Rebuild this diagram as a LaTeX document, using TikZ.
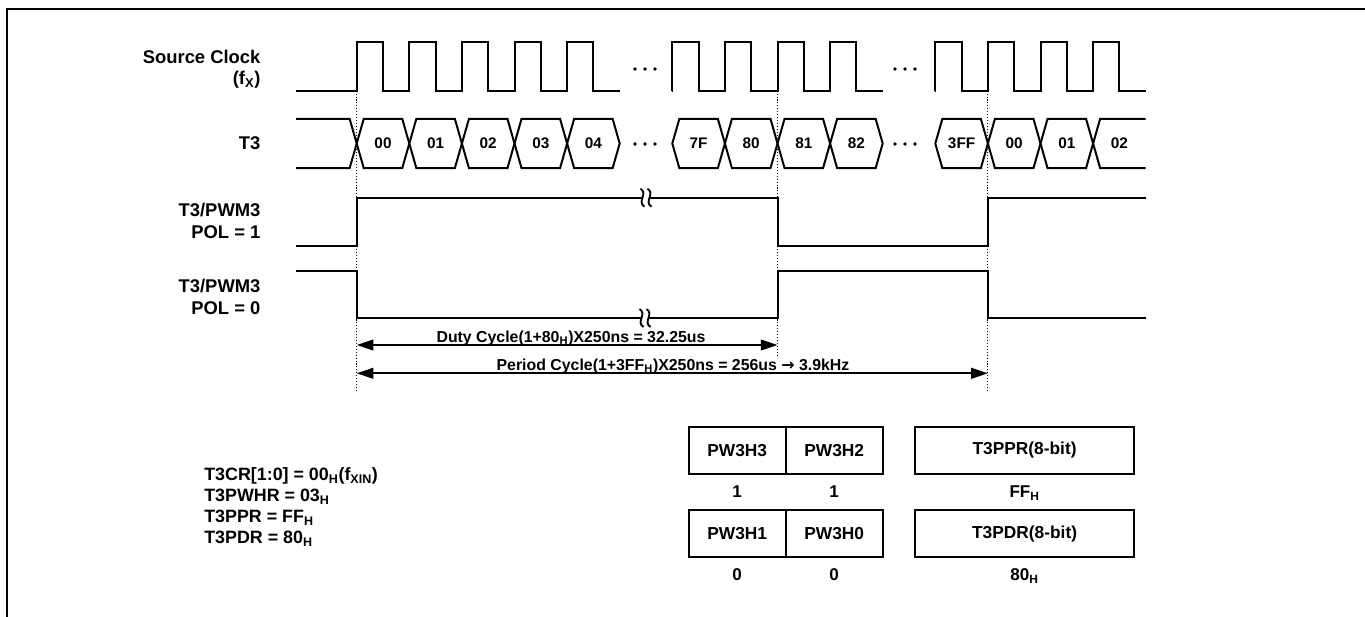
\documentclass[tikz,border=0pt]{standalone}
\usepackage{fontspec}
\setmainfont{Liberation Sans}
\newfontfamily\symfont{DejaVu Sans}
\usetikzlibrary{arrows.meta,positioning}

\begin{document}
\begin{tikzpicture}[x=0.75pt, y=-0.75pt]
        % Style definitions
        \tikzset{
            sig/.style={black, line width=1.5pt},
            frame/.style={black, line width=1.5pt},
            guide/.style={black, line width=0.8pt, dash pattern=on 0.8pt off 1.4pt},
            brk/.style={black, line width=1.4pt},
            lbl/.style={inner sep=0pt, align=right, font=\fontsize{13.8pt}{16.4pt}\selectfont\bfseries},
            hexlbl/.style={inner sep=0pt, font=\fontsize{11.5pt}{13pt}\selectfont\bfseries},
            dimlbl/.style={inner sep=0pt, font=\fontsize{11.9pt}{14pt}\selectfont\bfseries},
            regbox/.style={draw, line width=1.5pt, outer sep=0pt, minimum width=72.75pt,
                minimum height=35.5pt, inner sep=0pt, font=\fontsize{13pt}{15pt}\selectfont\bfseries},
            widebox/.style={regbox, minimum width=164.6pt},
            val/.style={inner sep=0pt, font=\fontsize{12.8pt}{14pt}\selectfont\bfseries},
            >={Triangle[length=12.5pt, width=8pt]},
            dimarrow/.style={<->, line width=1.5pt}
        }
        \def\ez{356.7}  % first rising edge
        \def\pd{52.6}   % clock period

        \useasboundingbox (0,0) rectangle (1365,617);
        \draw[frame] (7,617) -- (7,9) -- (1365,9);

        % ==========================================
        % SIGNAL NAMES
        % ==========================================
        \node[lbl, anchor=east] (nclk) at (260.7,69.3) {Source Clock\\(f\textsubscript{X})};
        \node[lbl, anchor=east] (nt3) at (260.7,143.5) {T3};
        \node[lbl, anchor=east] (npol1) at (260.7,220.5) {T3/PWM3\\POL = 1};
        \node[lbl, anchor=east] (npol0) at (260.7,296.5) {T3/PWM3\\POL = 0};

        % ==========================================
        % SOURCE CLOCK (low y = 90.7, high y = 42.3)
        % ==========================================
        \draw[sig] (296,90.7) \foreach \n in {0,...,4}{
            -- ({\ez+\pd*\n},90.7) -- ++(0,-48.4) -- ++(26.3,0) -- ++(0,48.4)} -- (619.7,90.7);
        \draw[sig] (672.3,90.7) \foreach \n in {6,...,9}{
            -- ({\ez+\pd*\n},90.7) -- ++(0,-48.4) -- ++(26.3,0) -- ++(0,48.4)} -- (882.7,90.7);
        \draw[sig] (935.3,90.7) \foreach \n in {11,...,14}{
            -- ({\ez+\pd*\n},90.7) -- ++(0,-48.4) -- ++(26.3,0) -- ++(0,48.4)} -- (1145.7,90.7);

        % ==========================================
        % T3 COUNTER VALUES (y = 119 to y = 168)
        % ==========================================
        \draw[sig] (296,119) -- (\ez-7,119) -- (\ez,143.5) -- (\ez-7,168) -- (296,168);
        \foreach \n/\v in {0/00,1/01,2/02,3/03,4/04,6/7F,7/80,8/81,9/82,11/3FF,12/00,13/01}{
            \draw[sig] ({\ez+\pd*\n},143.5) -- ++(7,-24.5) -- ++(\pd-14,0) -- ++(7,24.5)
                -- ++(-7,24.5) -- ++(-\pd+14,0) -- cycle;
            \node[hexlbl] (t\n) at ({\ez+\pd*(\n+0.5)},143.5) {\v};
        }
        % last value runs on to the right
        \draw[sig] (1145.7,119) -- ({\ez+\pd*14+7},119) -- ({\ez+\pd*14},143.5)
            -- ({\ez+\pd*14+7},168) -- (1145.7,168);
        \node[hexlbl] (t14) at ({\ez+\pd*14.5},143.5) {02};

        % Ellipsis dots
        \foreach \cx in {645,905}
            \foreach \cy in {69,144}
                \foreach \k in {-10,0,10}
                    \fill (\cx+\k,\cy) circle (1.4pt);

        % ==========================================
        % PWM OUTPUTS
        % ==========================================
        % POL = 1
        \draw[sig] (296,245.7) -- (\ez,245.7) -- (\ez,197.7) -- ({\ez+\pd*8},197.7)
            -- ({\ez+\pd*8},245.7) -- ({\ez+\pd*12},245.7) -- ({\ez+\pd*12},197.7) -- (1145.7,197.7);
        % POL = 0
        \draw[sig] (296,271) -- (\ez,271) -- (\ez,318) -- ({\ez+\pd*8},318)
            -- ({\ez+\pd*8},271) -- ({\ez+\pd*12},271) -- ({\ez+\pd*12},318) -- (1145.7,318);

        % Break marks
        \foreach \bx/\by in {646/197.7, 645/318}{
            \fill[white] (\bx-3.5,\by-3) rectangle (\bx+3.5,\by+3);
            \foreach \dx in {-3.5,3.5}
                \draw[brk] (\bx+\dx-2,\by-9) .. controls (\bx+\dx+6,\by-4) and (\bx+\dx-6,\by+4) .. (\bx+\dx+2,\by+9);
        }

        % ==========================================
        % TIMING GUIDES AND ARROWS
        % ==========================================
        \draw[guide] (\ez,90.7) -- (\ez,390.7);
        \draw[guide] ({\ez+\pd*8},90.7) -- ({\ez+\pd*8},357);
        \draw[guide] ({\ez+\pd*12},90.7) -- ({\ez+\pd*12},390.7);

        \coordinate (duty0) at (\ez,345);
        \coordinate (duty1) at ({\ez+\pd*8},345);
        \coordinate (per0) at (\ez,373.3);
        \coordinate (per1) at ({\ez+\pd*12},373.3);
        \draw[dimarrow] (duty0) -- (duty1);
        \draw[dimarrow] (per0) -- (per1);
        \node[dimlbl, anchor=base] (dutytxt) at (571,342) {Duty Cycle(1+80\textsubscript{H})X250ns = 32.25us};
        \node[dimlbl, anchor=base] (pertxt) at (673,370) {Period Cycle(1+3FF\textsubscript{H})X250ns = 256us {\symfont\bfseries →} 3.9kHz};

        % ==========================================
        % REGISTER SETTINGS
        % ==========================================
        \node[lbl, align=left, anchor=west, font=\fontsize{13.4pt}{15.8pt}\selectfont\bfseries] (regs) at (204,507)
            {T3CR[1:0] = 00\textsubscript{H}(f\textsubscript{XIN})\\T3PWHR = 03\textsubscript{H}\\T3PPR = FF\textsubscript{H}\\T3PDR = 80\textsubscript{H}};

        \node[regbox] (h3) at (737.2,450.35) {PW3H3};
        \node[regbox, right=0pt of h3] (h2) {PW3H2};
        \node[widebox] (ppr) at (1024.6,450.35) {T3PPR(8-bit)};
        \node[regbox, below=27pt of h3] (h1) {PW3H1};
        \node[regbox, right=0pt of h1] (h0) {PW3H0};
        \node[widebox, below=27pt of ppr] (pdr) {T3PDR(8-bit)};

        \node[val, below=8.5pt of h3] (vh3) {1};
        \node[val, below=8.5pt of h2] (vh2) {1};
        \node[val, below=8.5pt of ppr] (vppr) {FF\textsubscript{H}};
        \node[val, below=8.5pt of h1] (vh1) {0};
        \node[val, below=8.5pt of h0] (vh0) {0};
        \node[val, below=8.5pt of pdr] (vpdr) {80\textsubscript{H}};

    \end{tikzpicture}
\end{document}
